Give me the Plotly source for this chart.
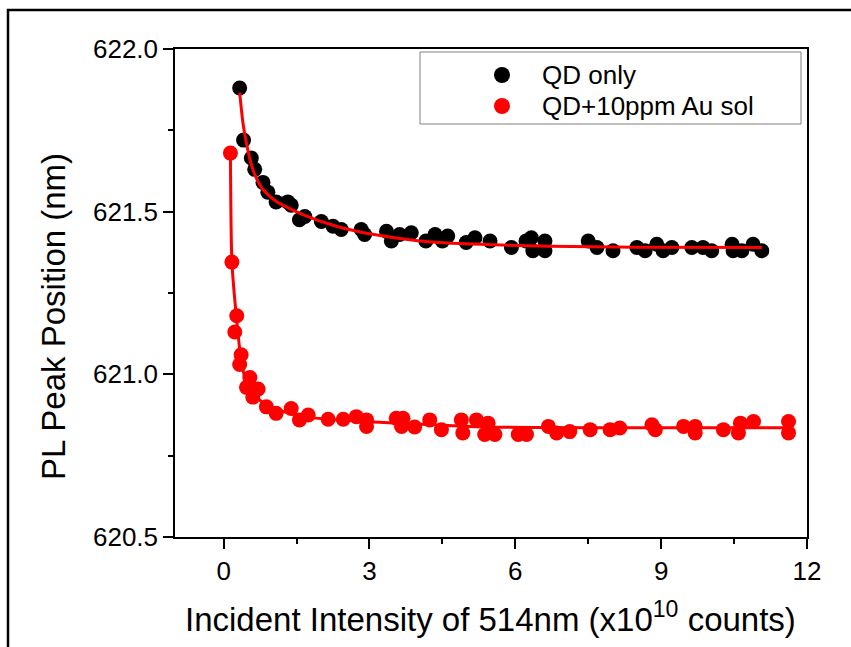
import plotly.graph_objects as go

# ---------------- data ----------------
qd_x = [0.33, 0.41, 0.57, 0.64, 0.81, 0.91, 1.08, 1.32, 1.39, 1.56, 1.67, 2.01, 2.25, 2.42,
        2.83, 2.90, 3.35, 3.45, 3.62, 3.86, 4.16, 4.35, 4.50, 4.61, 4.99, 5.17, 5.48, 5.92,
        6.22, 6.33, 6.36, 6.61, 6.61, 7.50, 7.68, 8.01, 8.50, 8.67, 8.91, 9.04, 9.22, 9.63,
        9.86, 10.04, 10.46, 10.48, 10.66, 10.89, 11.07]
qd_y = [621.88, 621.72, 621.665, 621.63, 621.59, 621.56, 621.53, 621.53, 621.52, 621.475,
        621.485, 621.47, 621.455, 621.445, 621.445, 621.43, 621.44, 621.41, 621.43, 621.435,
        621.41, 621.43, 621.41, 621.425, 621.405, 621.42, 621.41, 621.39, 621.41, 621.42,
        621.38, 621.41, 621.38, 621.41, 621.39, 621.38, 621.39, 621.38, 621.40, 621.38,
        621.39, 621.39, 621.39, 621.38, 621.40, 621.38, 621.38, 621.40, 621.38]

au_x = [0.14, 0.17, 0.23, 0.27, 0.33, 0.36, 0.47, 0.54, 0.60, 0.71, 0.88, 1.08, 1.39, 1.56,
        1.74, 2.15, 2.46, 2.73, 2.94, 2.94, 3.55, 3.66, 3.69, 3.93, 4.24, 4.48, 4.89, 4.92,
        5.20, 5.37, 5.44, 5.58, 6.06, 6.23, 6.68, 6.85, 7.12, 7.54, 7.95, 8.15, 8.81, 8.88,
        9.46, 9.70, 9.70, 10.28, 10.59, 10.63, 10.90, 11.62, 11.62]
au_y = [621.68, 621.345, 621.13, 621.18, 621.03, 621.06, 620.96, 620.99, 620.93, 620.955,
        620.90, 620.88, 620.895, 620.86, 620.875, 620.862, 620.862, 620.87, 620.86, 620.84,
        620.865, 620.84, 620.865, 620.838, 620.86, 620.83, 620.86, 620.82, 620.86, 620.815,
        620.85, 620.815, 620.815, 620.815, 620.84, 620.82, 620.824, 620.83, 620.83, 620.835,
        620.845, 620.83, 620.84, 620.84, 620.82, 620.83, 620.82, 620.85, 620.855, 620.855,
        620.82]

qd_fit_x = [0.33, 0.40, 0.47, 0.57, 0.67, 0.81, 1.08, 1.63, 2.32, 3.0, 4.03, 5.0, 6.7, 8.5, 11.07]
qd_fit_y = [621.866, 621.77, 621.71, 621.645, 621.604, 621.568, 621.532, 621.491, 621.455,
            621.432, 621.41, 621.401, 621.394, 621.391, 621.39]

au_fit_x = [0.14, 0.17, 0.26, 0.36, 0.47, 0.67, 0.95, 1.63, 2.87, 3.62, 5.4, 8.0, 11.62]
au_fit_y = [621.67, 621.347, 621.18, 621.045, 620.975, 620.93, 620.90, 620.87, 620.855,
            620.85, 620.838, 620.836, 620.836]

series_names = ["QD only", "QD+10ppm Au sol"]
series_colors = ["#000000", "#ff0000"]
x_ticks = [0, 3, 6, 9, 12]
y_ticks = [620.5, 621.0, 621.5, 622.0]

FONT = "Liberation Sans, Arial, sans-serif"

# plot-area geometry (pixels) used to place the hand-made legend box
W, H = 851, 647
ML, MR, MT, MB = 175, 44, 49, 110
PW, PH = W - ML - MR, H - MT - MB


def px_x(px):
    return (px - ML) / PW


def px_y(py):
    return (H - MB - py) / PH


fig = go.Figure()
fig.add_trace(go.Scatter(x=qd_x, y=qd_y, mode="markers", name=series_names[0],
                         marker=dict(color=series_colors[0], size=15)))
fig.add_trace(go.Scatter(x=au_x, y=au_y, mode="markers", name=series_names[1],
                         marker=dict(color=series_colors[1], size=15)))
fig.add_trace(go.Scatter(x=qd_fit_x, y=qd_fit_y, mode="lines", name="fit QD",
                         line=dict(color="#ff0000", width=3, shape="spline", smoothing=0.6)))
fig.add_trace(go.Scatter(x=au_fit_x, y=au_fit_y, mode="lines", name="fit Au",
                         line=dict(color="#ff0000", width=3, shape="spline", smoothing=0.6)))

axis_common = dict(showline=True, mirror=True, linecolor="black", linewidth=1.5,
                   ticks="outside", ticklen=10, tickwidth=1.5, tickcolor="black",
                   showgrid=False, zeroline=False,
                   tickfont=dict(family=FONT, size=26, color="black"))

fig.update_xaxes(range=[-1, 12], tickvals=x_ticks, ticktext=[str(v) for v in x_ticks],
                 minor=dict(ticks="outside", ticklen=5, tickwidth=1.5, tickcolor="black",
                            dtick=1.5, tick0=0, showgrid=False),
                 **axis_common)
fig.update_yaxes(range=[620.5, 622.0], tickvals=y_ticks,
                 ticktext=[f"{v:.1f}" for v in y_ticks],
                 minor=dict(ticks="outside", ticklen=5, tickwidth=1.5, tickcolor="black",
                            dtick=0.25, tick0=620.5, showgrid=False),
                 **axis_common)

# legend drawn by hand to match the original box geometry
legend_rows_py = [75, 106]
shapes = [
    dict(type="path", xref="paper", yref="paper",
         path=f"M {px_x(8)},-0.3 L {px_x(8)},{px_y(10)} L 1.2,{px_y(10)}",
         line=dict(color="black", width=2.5)),
    dict(type="rect", xref="paper", yref="paper",
         x0=px_x(420), x1=px_x(801), y0=px_y(124), y1=px_y(52),
         line=dict(color="#808080", width=1), fillcolor="white", layer="above"),
]
annotations = [
    dict(text="PL Peak Position (nm)", textangle=-90, xref="paper", yref="paper",
         x=px_x(53), y=px_y(317), xanchor="center", yanchor="middle", showarrow=False,
         font=dict(family=FONT, size=33, color="black")),
    dict(text="Incident Intensity of 514nm (x10<sup>10</sup> counts)", xref="paper",
         yref="paper", x=px_x(490), y=px_y(617), xanchor="center", yanchor="middle",
         showarrow=False, font=dict(family=FONT, size=33, color="black")),
]
for name, color, py in zip(series_names, series_colors, legend_rows_py):
    shapes.append(dict(type="circle", xref="paper", yref="paper",
                       xsizemode="pixel", ysizemode="pixel",
                       xanchor=px_x(502), yanchor=px_y(py),
                       x0=-8, x1=8, y0=-8, y1=8,
                       fillcolor=color, line=dict(color=color, width=0), layer="above"))
    annotations.append(dict(text=name, xref="paper", yref="paper",
                            x=px_x(540), y=px_y(py), xanchor="left", yanchor="middle",
                            showarrow=False,
                            font=dict(family=FONT, size=26, color="black")))

fig.update_layout(
    width=W, height=H,
    margin=dict(l=ML, r=MR, t=MT, b=MB),
    paper_bgcolor="white", plot_bgcolor="white",
    font=dict(family=FONT, color="black"),
    showlegend=False,
    annotations=annotations,
    shapes=shapes,
)

fig.write_html("out.html")
